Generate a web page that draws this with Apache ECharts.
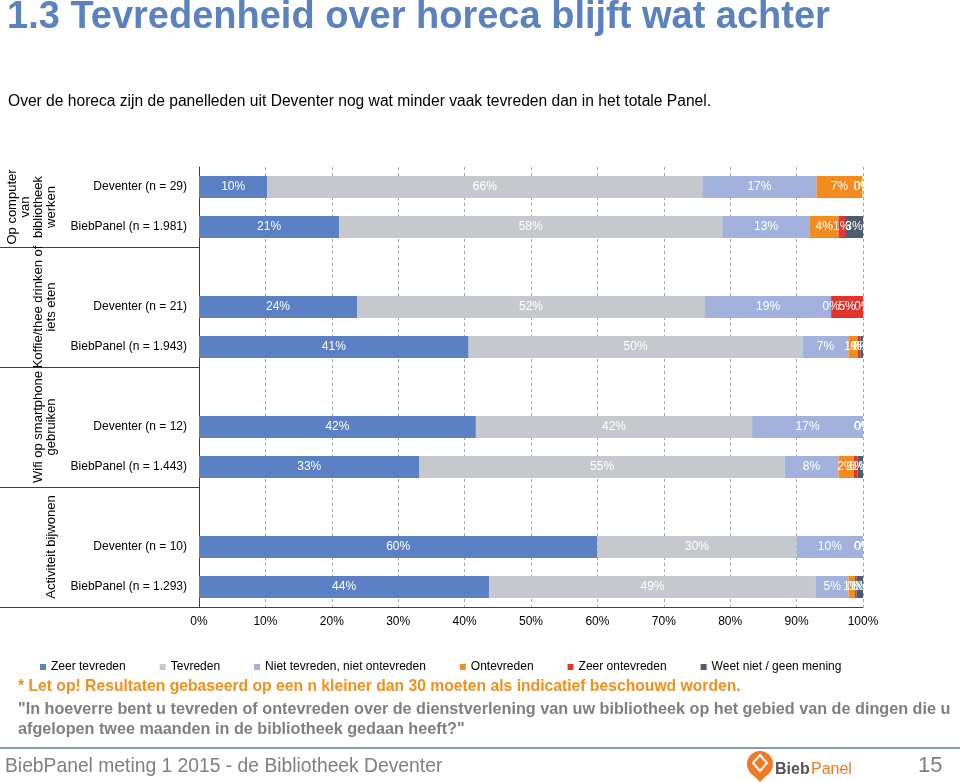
<!DOCTYPE html>
<html>
<head>
<meta charset="utf-8">
<script src="https://cdn.jsdelivr.net/npm/echarts@6/dist/echarts.min.js"></script>
<style>
html,body{margin:0;padding:0;background:#fff;}
#chart{width:960px;height:782px;}
</style>
</head>
<body>
<div id="chart"></div>
<script>
// ---- data ----
const categories = ['Deventer (n = 29)', 'BiebPanel (n = 1.981)', '',
  'Deventer (n = 21)', 'BiebPanel (n = 1.943)', '',
  'Deventer (n = 12)', 'BiebPanel (n = 1.443)', '',
  'Deventer (n = 10)', 'BiebPanel (n = 1.293)'];
const groupLabels = [
  ['Op computer', 'van', 'bibliotheek', 'werken'],
  ['Koffie/thee drinken of', 'iets eten'],
  ['Wifi op smartphone', 'gebruiken'],
  ['Activiteit bijwonen']
];
const seriesNames = ['Zeer tevreden', 'Tevreden', 'Niet tevreden, niet ontevreden', 'Ontevreden', 'Zeer ontevreden', 'Weet niet / geen mening'];
const zeerTevreden   = [10.3, 21.1, null, 23.8, 40.6, null, 41.7, 33.2, null, 60, 43.7];
const tevreden       = [65.5, 57.7, null, 52.4, 50.3, null, 41.6, 55.0, null, 30, 49.2];
const nietTevreden   = [17.2, 13.2, null, 19.0, 6.9, null, 16.7, 8.1, null, 10, 4.9];
const ontevreden     = [6.9, 4.3, null, 0, 1.4, null, 0, 2.3, null, 0, 1.0];
const zeerOntevreden = [0, 1.0, null, 4.8, 0.4, null, 0, 0.6, null, 0, 0.2];
const weetNiet       = [0, 2.7, null, 0, 0.4, null, 0, 0.8, null, 0, 1.0];
const xTicks = [0, 10, 20, 30, 40, 50, 60, 70, 80, 90, 100];

const colors = ['#5B80C3', '#C5C9CE', '#A3B1DD', '#F38B1F', '#E2342C', '#4C5D6E'];
const values = [zeerTevreden, tevreden, nietTevreden, ontevreden, zeerOntevreden, weetNiet];

const FONT = "'Liberation Sans', Arial, sans-serif";
const G = {left: 199, right: 97, top: 167, bottom: 175};
const gRight = 960 - G.right, gBottom = 782 - G.bottom;
const slotH = (gBottom - G.top) / categories.length;

const chart = echarts.init(document.getElementById('chart'), null, {renderer: 'canvas'});

const series = seriesNames.map((n, i) => ({
  name: n, type: 'bar', stack: 'total', barWidth: 22,
  itemStyle: {color: colors[i]},
  label: {
    show: true, position: 'inside', color: '#fff', fontSize: 12, fontFamily: FONT,
    formatter: p => (p.value == null ? '' : Math.round(p.value) + '%')
  },
  data: values[i]
}));

function txt(x, y, text, fill, font, extra) {
  return Object.assign({type: 'text', x: x, y: y, z: 50,
    style: {text: text, fill: fill, font: font, textAlign: 'left', textVerticalAlign: 'middle'}}, extra || {});
}

const graphics = [];
// title and subtitle
graphics.push(txt(7, 18, '1.3 Tevredenheid over horeca blijft wat achter', '#5A82BE', "bold 38px " + FONT));
graphics.push(txt(8, 102, 'Over de horeca zijn de panelleden uit Deventer nog wat minder vaak tevreden dan in het totale Panel.', '#000', "15.6px " + FONT));
// clip cover for labels overflowing the plot area
graphics.push({type: 'rect', z: 100, shape: {x: gRight + 1, y: G.top, width: 60, height: gBottom - G.top - 1}, style: {fill: '#fff'}});
// separators
[2, 5, 8, 11].forEach(k => {
  const y = Math.round(G.top + slotH * k) + 0.5;
  graphics.push({type: 'line', z: 50, shape: {x1: 0, y1: y, x2: G.left, y2: y}, style: {stroke: '#404040', lineWidth: 1}});
});
// group labels (rotated)
const groupSlots = [[0, 2], [2, 5], [5, 8], [8, 11]];
groupLabels.forEach((lines, gi) => {
  const cy = G.top + slotH * (groupSlots[gi][0] + groupSlots[gi][1]) / 2;
  const n = lines.length;
  lines.forEach((t, j) => {
    const x = 51 - (n - 1 - j) * 13;
    graphics.push({type: 'text', z: 50, x: x, y: cy, rotation: Math.PI / 2,
      style: {text: t, fill: '#000', font: "13px " + FONT, textAlign: 'center', textVerticalAlign: 'middle'}});
  });
});
// footer
graphics.push(txt(18, 687, '* Let op! Resultaten gebaseerd op een n kleiner dan 30 moeten als indicatief beschouwd worden.', '#F0901E', "bold 15.7px " + FONT));
graphics.push(txt(18, 710, '"In hoeverre bent u tevreden of ontevreden over de dienstverlening van uw bibliotheek op het gebied van de dingen die u', '#7F7F7F', "bold 16.2px " + FONT));
graphics.push(txt(18, 730, 'afgelopen twee maanden in de bibliotheek gedaan heeft?"', '#7F7F7F', "bold 16.2px " + FONT));
graphics.push({type: 'line', z: 50, shape: {x1: 0, y1: 748, x2: 960, y2: 748}, style: {stroke: '#5A7AA6', lineWidth: 1.5}});
graphics.push(txt(5, 767, 'BiebPanel meting 1 2015 - de Bibliotheek Deventer', '#7F7F7F', "19.3px " + FONT));
graphics.push(txt(918, 766, '15', '#7F7F7F', "22px " + FONT));
// logo
graphics.push({type: 'circle', z: 50, shape: {cx: 760, cy: 764, r: 13}, style: {fill: '#EE7A26'}});
graphics.push({type: 'polygon', z: 50, shape: {points: [[750, 772], [770, 772], [760, 782]]}, style: {fill: '#EE7A26'}});
graphics.push({type: 'polygon', z: 51, shape: {points: [[760, 755], [767, 763], [760, 771], [753, 763]]}, style: {fill: '#EE7A26', stroke: '#fff', lineWidth: 2}});
graphics.push(txt(775, 770, 'Bieb', '#555', "bold 16px " + FONT));
graphics.push(txt(811, 770, 'Panel', '#EE7A26', "16px " + FONT));

chart.setOption({
  animation: false,
  backgroundColor: '#fff',
  color: colors,
  grid: {left: G.left, right: G.right, top: G.top, bottom: G.bottom, containLabel: false},
  legend: {
    left: 35, top: 656, itemWidth: 6, itemHeight: 6, itemGap: 34, icon: 'rect',
    textStyle: {fontSize: 12, color: '#000', fontFamily: FONT},
    data: seriesNames, selectedMode: false
  },
  xAxis: {
    type: 'value', min: 0, max: 100, interval: 10,
    axisLine: {show: true, lineStyle: {color: '#404040'}},
    axisTick: {show: false},
    axisLabel: {formatter: v => (xTicks.includes(v) ? v + '%' : ''), color: '#000', fontSize: 12, fontFamily: FONT, margin: 9},
    splitLine: {show: true, lineStyle: {color: '#A6A6A6', type: [3, 3], width: 1}}
  },
  yAxis: {
    type: 'category', inverse: true, data: categories,
    axisLine: {show: true, lineStyle: {color: '#404040'}},
    axisTick: {show: false},
    axisLabel: {color: '#000', fontSize: 12, fontFamily: FONT, margin: 12}
  },
  series: series,
  graphic: {elements: graphics}
});
</script>
</body>
</html>
